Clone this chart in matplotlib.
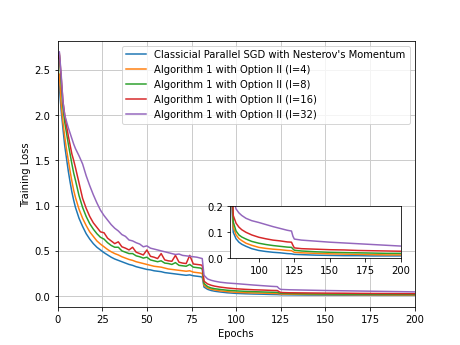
import numpy as np
import matplotlib
matplotlib.use("Agg")
import matplotlib.pyplot as plt

epochs = [0, 1, 2, 3, 4, 5, 6, 7, 8, 9, 10,
          12, 14, 16, 18, 20, 22, 24, 26, 28, 30, 32, 34, 36, 38, 40, 42, 44, 46, 48, 50,
          52, 54, 56, 58, 60, 62, 64, 66, 68, 70, 72, 74, 76, 78, 80,
          81, 82, 84, 86, 88, 91, 95, 100, 105, 110, 115, 120, 123, 124, 125,
          130, 140, 150, 160, 170, 180, 190, 200]

sgd = [2.47, 2.3, 2.05, 1.85, 1.66, 1.52, 1.38, 1.26, 1.15, 1.06, 0.98,
       0.86, 0.77, 0.69, 0.63, 0.58, 0.54, 0.51, 0.48, 0.455, 0.43, 0.41, 0.395, 0.38, 0.365, 0.35, 0.34, 0.325, 0.315, 0.305, 0.295,
       0.29, 0.28, 0.275, 0.27, 0.26, 0.255, 0.25, 0.245, 0.24, 0.235, 0.23, 0.235, 0.225, 0.22, 0.215,
       0.21, 0.1, 0.075, 0.062, 0.054, 0.046, 0.037, 0.03, 0.026, 0.023, 0.021, 0.018, 0.017, 0.016, 0.015,
       0.014, 0.012, 0.011, 0.010, 0.010, 0.009, 0.009, 0.009]

opt_i4 = [2.47, 2.45, 2.12, 1.92, 1.76, 1.62, 1.5, 1.38, 1.27, 1.17, 1.09,
          0.96, 0.86, 0.78, 0.71, 0.66, 0.61, 0.575, 0.545, 0.515, 0.49, 0.47, 0.455, 0.435, 0.42, 0.405, 0.395, 0.38, 0.37, 0.36, 0.35,
          0.34, 0.33, 0.325, 0.32, 0.31, 0.3, 0.295, 0.29, 0.285, 0.28, 0.275, 0.28, 0.265, 0.26, 0.255,
          0.25, 0.12, 0.09, 0.076, 0.068, 0.058, 0.05, 0.042, 0.038, 0.035, 0.033, 0.03, 0.029, 0.026, 0.023,
          0.021, 0.019, 0.017, 0.016, 0.015, 0.014, 0.013, 0.013]

opt_i8 = [2.62, 2.66, 2.35, 2.08, 1.92, 1.8, 1.68, 1.57, 1.46, 1.36, 1.28,
          1.11, 0.98, 0.88, 0.8, 0.74, 0.69, 0.65, 0.63, 0.59, 0.56, 0.54, 0.54, 0.5, 0.485, 0.47, 0.47, 0.445, 0.435, 0.42, 0.43,
          0.4, 0.39, 0.38, 0.39, 0.365, 0.36, 0.35, 0.37, 0.34, 0.335, 0.33, 0.35, 0.32, 0.315, 0.31,
          0.3, 0.14, 0.105, 0.09, 0.082, 0.074, 0.065, 0.058, 0.053, 0.049, 0.046, 0.043, 0.042, 0.036, 0.031,
          0.028, 0.025, 0.023, 0.022, 0.021, 0.02, 0.019, 0.019]

opt_i16 = [2.62, 2.68, 2.42, 2.15, 2.0, 1.88, 1.77, 1.67, 1.57, 1.5, 1.42,
           1.25, 1.08, 0.97, 0.88, 0.81, 0.76, 0.71, 0.7, 0.64, 0.61, 0.58, 0.6, 0.545, 0.53, 0.51, 0.54, 0.485, 0.47, 0.455, 0.51,
           0.44, 0.43, 0.415, 0.47, 0.4, 0.39, 0.385, 0.45, 0.375, 0.365, 0.36, 0.45, 0.355, 0.35, 0.345,
           0.34, 0.165, 0.135, 0.12, 0.11, 0.1, 0.09, 0.081, 0.075, 0.07, 0.067, 0.063, 0.062, 0.05, 0.04,
           0.037, 0.035, 0.033, 0.032, 0.03, 0.029, 0.028, 0.027]

opt_i32 = [2.67, 2.7, 2.45, 2.15, 2.0, 1.93, 1.86, 1.8, 1.74, 1.68, 1.63,
           1.55, 1.46, 1.33, 1.22, 1.12, 1.03, 0.95, 0.89, 0.84, 0.79, 0.75, 0.72, 0.68, 0.66, 0.62, 0.61, 0.59, 0.575, 0.545, 0.555,
           0.53, 0.52, 0.51, 0.5, 0.49, 0.48, 0.47, 0.46, 0.465, 0.45, 0.445, 0.44, 0.435, 0.43, 0.42,
           0.415, 0.23, 0.19, 0.175, 0.165, 0.154, 0.145, 0.138, 0.13, 0.122, 0.115, 0.108, 0.105, 0.085, 0.074,
           0.07, 0.066, 0.062, 0.059, 0.056, 0.053, 0.05, 0.047]

labels = ["Classicial Parallel SGD with Nesterov's Momentum",
          "Algorithm 1 with Option II (I=4)",
          "Algorithm 1 with Option II (I=8)",
          "Algorithm 1 with Option II (I=16)",
          "Algorithm 1 with Option II (I=32)"]
series = [sgd, opt_i4, opt_i8, opt_i16, opt_i32]
colors = ["#1f77b4", "#ff7f0e", "#2ca02c", "#d62728", "#9467bd"]

fig, ax = plt.subplots(figsize=(6.4, 4.8), dpi=72)
for vals, lab, c in zip(series, labels, colors):
    ax.plot(epochs, vals, color=c, label=lab, linewidth=1.5)
ax.set_xlim(0, 200)
ax.set_ylim(-0.12, 2.82)
ax.set_xlabel("Epochs")
ax.set_ylabel("Training Loss")
ax.grid(True, color="#cccccc", linewidth=1)
ax.legend(loc="upper right")

# zoomed inset
axins = fig.add_axes([0.5, 0.251, 0.37, 0.15])
for vals, c in zip(series, colors):
    axins.plot(epochs, vals, color=c, linewidth=1.5)
axins.set_xlim(80, 200)
axins.set_ylim(0, 0.2)
axins.set_xticks([100, 125, 150, 175, 200])
axins.set_yticks([0.0, 0.1, 0.2])

fig.savefig("out.png", dpi=72)
